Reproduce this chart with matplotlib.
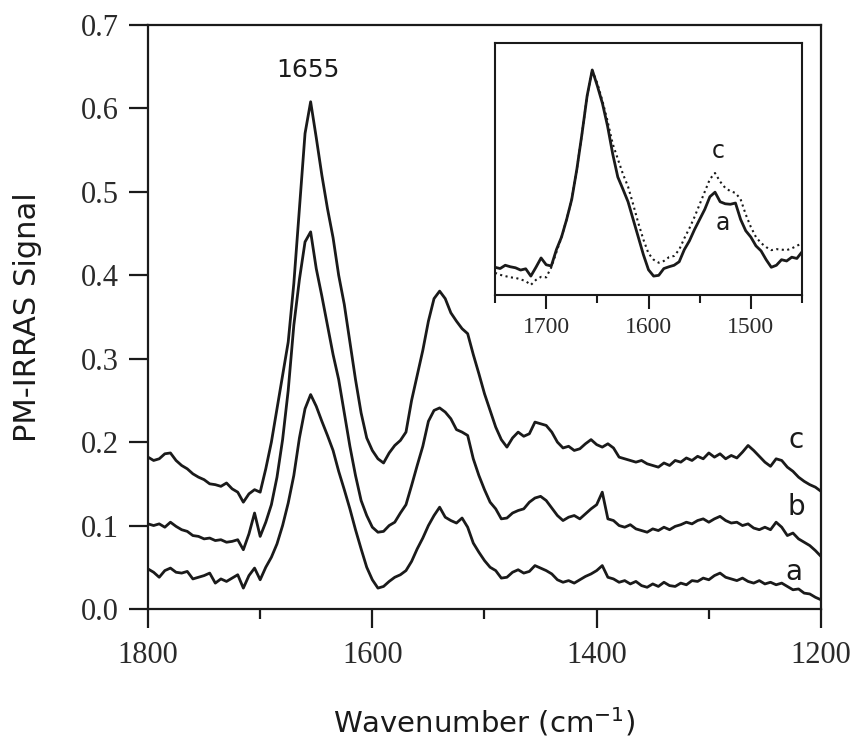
import numpy as np
import matplotlib
matplotlib.use('Agg')
import matplotlib.pyplot as plt
from matplotlib.ticker import MultipleLocator, FormatStrFormatter

# wavenumber grid of the spectra (cm-1), 5 cm-1 steps from 1800 down to 1200
wavenumber = np.arange(1800, 1195, -5)

# PM-IRRAS spectra, three samples (offset in the plot as recorded)
spec_a = [0.048, 0.044, 0.038, 0.046, 0.049, 0.044, 0.043, 0.045, 0.036, 0.038,
          0.040, 0.043, 0.031, 0.036, 0.033, 0.037, 0.041, 0.025, 0.040, 0.049,
          0.035, 0.050, 0.062, 0.078, 0.100, 0.127, 0.160, 0.205, 0.240, 0.257,
          0.243, 0.225, 0.208, 0.190, 0.165, 0.143, 0.120, 0.095, 0.072, 0.050,
          0.035, 0.025, 0.027, 0.033, 0.038, 0.041, 0.046, 0.057, 0.072, 0.085,
          0.100, 0.112, 0.122, 0.110, 0.106, 0.103, 0.109, 0.098, 0.079, 0.068,
          0.058, 0.050, 0.046, 0.037, 0.038, 0.044, 0.047, 0.043, 0.045, 0.052,
          0.049, 0.046, 0.042, 0.035, 0.032, 0.034, 0.031, 0.035, 0.039, 0.042,
          0.046, 0.052, 0.038, 0.036, 0.032, 0.034, 0.030, 0.033, 0.028, 0.026,
          0.030, 0.027, 0.032, 0.028, 0.027, 0.031, 0.029, 0.034, 0.033, 0.037,
          0.035, 0.040, 0.043, 0.038, 0.036, 0.034, 0.037, 0.033, 0.031, 0.034,
          0.030, 0.032, 0.029, 0.031, 0.027, 0.023, 0.024, 0.019, 0.018, 0.014,
          0.011]

spec_b = [0.102, 0.100, 0.102, 0.098, 0.104, 0.099, 0.095, 0.093, 0.088, 0.087,
          0.084, 0.085, 0.082, 0.083, 0.080, 0.081, 0.083, 0.071, 0.090, 0.115,
          0.087, 0.104, 0.125, 0.158, 0.203, 0.262, 0.340, 0.395, 0.440, 0.452,
          0.408, 0.375, 0.340, 0.305, 0.275, 0.235, 0.195, 0.160, 0.130, 0.112,
          0.098, 0.092, 0.093, 0.100, 0.104, 0.115, 0.125, 0.148, 0.172, 0.195,
          0.225, 0.238, 0.241, 0.236, 0.228, 0.215, 0.212, 0.208, 0.180, 0.160,
          0.143, 0.128, 0.120, 0.108, 0.109, 0.115, 0.118, 0.120, 0.128, 0.133,
          0.135, 0.130, 0.121, 0.112, 0.106, 0.110, 0.112, 0.108, 0.114, 0.120,
          0.125, 0.140, 0.108, 0.106, 0.100, 0.098, 0.101, 0.096, 0.094, 0.092,
          0.096, 0.094, 0.098, 0.095, 0.099, 0.101, 0.104, 0.102, 0.106, 0.108,
          0.104, 0.108, 0.111, 0.106, 0.103, 0.104, 0.100, 0.102, 0.097, 0.095,
          0.098, 0.095, 0.104, 0.098, 0.088, 0.091, 0.084, 0.080, 0.076, 0.070,
          0.063]

spec_c = [0.182, 0.178, 0.180, 0.186, 0.187, 0.178, 0.172, 0.168, 0.162, 0.158,
          0.155, 0.150, 0.149, 0.147, 0.151, 0.144, 0.140, 0.128, 0.138, 0.143,
          0.140, 0.168, 0.200, 0.240, 0.280, 0.320, 0.390, 0.480, 0.570, 0.608,
          0.565, 0.520, 0.480, 0.445, 0.400, 0.365, 0.320, 0.275, 0.235, 0.205,
          0.190, 0.180, 0.175, 0.187, 0.196, 0.202, 0.212, 0.250, 0.280, 0.310,
          0.345, 0.372, 0.381, 0.372, 0.355, 0.345, 0.336, 0.330, 0.305, 0.282,
          0.258, 0.238, 0.218, 0.203, 0.194, 0.205, 0.212, 0.207, 0.210, 0.224,
          0.222, 0.220, 0.212, 0.200, 0.193, 0.195, 0.190, 0.192, 0.198, 0.203,
          0.197, 0.194, 0.198, 0.193, 0.182, 0.180, 0.178, 0.176, 0.178, 0.174,
          0.172, 0.170, 0.175, 0.172, 0.178, 0.176, 0.181, 0.178, 0.183, 0.180,
          0.187, 0.182, 0.186, 0.180, 0.184, 0.181, 0.188, 0.196, 0.190, 0.183,
          0.176, 0.171, 0.180, 0.178, 0.170, 0.165, 0.158, 0.153, 0.149, 0.146,
          0.141]

# inset: amide I / II region, normalised spectra a (solid) and c (dotted)
inset_wn = np.arange(1750, 1445, -5)
inset_a = [0.110, 0.105, 0.118, 0.112, 0.108, 0.099, 0.104, 0.075, 0.110, 0.147,
           0.120, 0.115, 0.180, 0.230, 0.300, 0.380, 0.500, 0.640, 0.790, 0.893,
           0.830, 0.760, 0.670, 0.560, 0.468, 0.420, 0.370, 0.300, 0.230, 0.160,
           0.100, 0.075, 0.078, 0.105, 0.112, 0.118, 0.132, 0.180, 0.215, 0.260,
           0.300, 0.340, 0.390, 0.408, 0.370, 0.362, 0.360, 0.365, 0.300, 0.255,
           0.230, 0.195, 0.175, 0.140, 0.110, 0.118, 0.140, 0.135, 0.150, 0.145,
           0.171]
inset_c = [0.088, 0.080, 0.075, 0.070, 0.068, 0.062, 0.055, 0.040, 0.060, 0.072,
           0.070, 0.110, 0.170, 0.230, 0.300, 0.380, 0.500, 0.640, 0.790, 0.893,
           0.840, 0.770, 0.690, 0.600, 0.540, 0.480, 0.430, 0.360, 0.286, 0.220,
           0.165, 0.140, 0.128, 0.135, 0.150, 0.155, 0.180, 0.225, 0.265, 0.310,
           0.360, 0.410, 0.460, 0.484, 0.450, 0.425, 0.412, 0.405, 0.380, 0.320,
           0.270, 0.230, 0.206, 0.190, 0.178, 0.182, 0.180, 0.178, 0.185, 0.195,
           0.206]

ink = '#1a1a1a'
serif = 'Liberation Serif'
sans = 'DejaVu Sans'

fig = plt.figure(figsize=(8.56, 7.44), dpi=100)
ax = fig.add_axes([0.1729, 0.1815, 0.7862, 0.7849])

for spec in (spec_a, spec_b, spec_c):
    ax.plot(wavenumber, spec, color=ink, lw=2.0)

ax.set_xlim(1800, 1200)
ax.set_ylim(0, 0.7)
ax.xaxis.set_major_locator(MultipleLocator(200))
ax.xaxis.set_minor_locator(MultipleLocator(100))
ax.yaxis.set_major_locator(MultipleLocator(0.1))
ax.yaxis.set_major_formatter(FormatStrFormatter('%.1f'))
ax.tick_params(axis='both', which='major', direction='out', length=14, width=1.6,
               color=ink, labelcolor='#2a2a2a')
ax.tick_params(axis='x', which='minor', direction='out', length=7, width=1.6, color=ink)
ax.tick_params(axis='x', which='major', pad=9)
ax.tick_params(axis='y', which='major', pad=7)
for lab in ax.get_xticklabels() + ax.get_yticklabels():
    lab.set_fontfamily(serif)
    lab.set_fontsize(22)
for sp in ax.spines.values():
    sp.set_linewidth(1.6)
    sp.set_color(ink)

ax.set_xlabel('Wavenumber (cm$^{\\mathregular{-1}}$)', fontsize=21, family=sans,
              color=ink, labelpad=26)
ax.set_ylabel('PM-IRRAS Signal', fontsize=22, family=sans, color=ink, labelpad=28)

ax.text(1657, 0.646, '1655', fontsize=18, family=sans, color=ink, ha='center', va='center')
ax.text(1222, 0.203, 'c', fontsize=20, family=sans, color=ink, ha='center', va='center')
ax.text(1222, 0.122, 'b', fontsize=20, family=sans, color=ink, ha='center', va='center')
ax.text(1224, 0.044, 'a', fontsize=20, family=sans, color=ink, ha='center', va='center')

# inset
ins = fig.add_axes([0.5783, 0.6035, 0.3586, 0.3387])
ins.plot(inset_wn, inset_a, color=ink, lw=2.0)
ins.plot(inset_wn, inset_c, color=ink, lw=1.5, ls=':')
ins.set_xlim(1750, 1450)
ins.set_ylim(0, 1)
ins.xaxis.set_major_locator(MultipleLocator(100))
ins.xaxis.set_minor_locator(MultipleLocator(50))
ins.set_yticks([])
ins.tick_params(axis='x', which='major', direction='out', length=10, width=1.5, color=ink,
                labelcolor='#2a2a2a', pad=6)
ins.tick_params(axis='x', which='minor', direction='out', length=6, width=1.5, color=ink)
for lab in ins.get_xticklabels():
    lab.set_fontfamily(serif)
    lab.set_fontsize(17)
for sp in ins.spines.values():
    sp.set_linewidth(1.5)
    sp.set_color(ink)
ins.text(1532, 0.57, 'c', fontsize=17, family=sans, color=ink, ha='center', va='center')
ins.text(1527, 0.285, 'a', fontsize=17, family=sans, color=ink, ha='center', va='center')

fig.savefig('out.png', dpi=100, facecolor='white')
